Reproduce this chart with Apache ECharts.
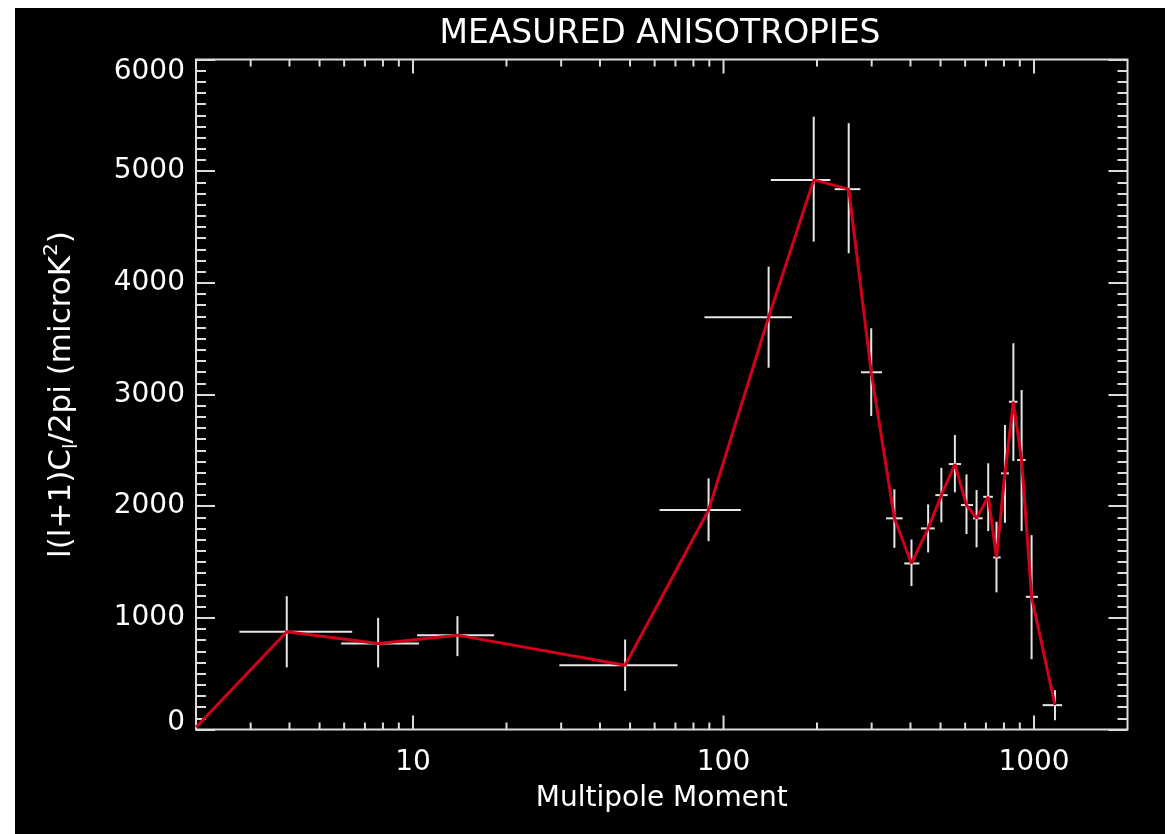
<!DOCTYPE html>
<html>
<head>
<meta charset="utf-8">
<script src="https://cdn.jsdelivr.net/npm/echarts@6/dist/echarts.min.js"></script>
<style>
html, body { margin: 0; padding: 0; background: #ffffff; width: 1176px; height: 834px; overflow: hidden; }
#chart { position: absolute; left: 15px; top: 8px; width: 1150px; height: 826px; background: #000000; }
</style>
</head>
<body>
<div id="chart"></div>
<script>
// ---- data ----
const titleText = 'MEASURED ANISOTROPIES';
const xTitle = 'Multipole Moment';
const ell   = [2, 3.92, 7.72, 13.9, 48.2, 89.5, 139.7, 195.2, 253, 299, 355, 403, 456, 503, 556, 606, 653, 712, 757, 806, 858, 912, 982, 1168];
const power = [20, 875, 771, 845, 576, 1965, 3692, 4922, 4839, 3199, 1891, 1487, 1801, 2099, 2377, 2010, 1891, 2084, 1541, 2294, 2935, 2413, 1188, 218];
const ellLow  = [null, 2.76, 5.87, 10.3, 29.6, 62.2, 86.8, 142, 228, 277, 333.8, 382, 432, 481, 531, 582, 636, 686, 739, 783, 830, 882, 940, 1066];
const ellHigh = [null, 6.37, 10.45, 18.25, 71.1, 113.7, 166, 220.8, 275.8, 324, 377.6, 427.6, 479, 527, 582, 636, 683, 737, 781, 830, 884, 940, 1030, 1232];
const powLow  = [null, 556, 556, 657, 346, 1687, 3240, 4369, 4265, 2807, 1627, 1284, 1586, 1855, 2124, 1750, 1631, 1777, 1228, 1851, 2404, 1777, 630, 83];
const powHigh = [null, 1194, 1000, 1015, 806, 2249, 4145, 5489, 5430, 3593, 2151, 1702, 2016, 2344, 2637, 2285, 2144, 2384, 1860, 2727, 3459, 3040, 1741, 352];
const xMajorTicks = [10, 100, 1000];
const xMinorTicks = [3, 4, 5, 6, 7, 8, 9, 20, 30, 40, 50, 60, 70, 80, 90, 200, 300, 400, 500, 600, 700, 800, 900];
const xLabels = [10, 100, 1000];
const yTickValues = [0, 1000, 2000, 3000, 4000, 5000, 6000];

const FG = '#dcdcdc';
const FONT = 'DejaVu Sans';

const chart = echarts.init(document.getElementById('chart'), null, { renderer: 'canvas' });

const lineData = ell.map((l, i) => [l, power[i]]);
const errData = ell.map((l, i) => [l, power[i], ellLow[i], ellHigh[i], powLow[i], powHigh[i]]).filter(d => d[2] !== null);
const tickData = xMajorTicks.map(v => [v, 0, 14]).concat(xMinorTicks.map(v => [v, 0, 7]));

const yAxisCommon = {
  type: 'value', min: 0, max: 6000, interval: 1000,
  axisLine: { show: false },
  splitLine: { show: false },
  axisTick: { show: true, inside: true, length: 19, lineStyle: { color: FG, width: 2 } },
  minorTick: { show: true, splitNumber: 10, length: 10, lineStyle: { color: FG, width: 2 } }
};

chart.setOption({
  animation: false,
  backgroundColor: '#000000',
  graphic: [{
    type: 'text', x: 645, y: 26,
    style: { text: titleText, fill: '#ffffff', font: '33px "DejaVu Sans"', textAlign: 'center', textVerticalAlign: 'middle' }
  }],
  grid: {
    left: 181, top: 51.5, right: 37.5, bottom: 104.5,
    show: true, borderColor: FG, borderWidth: 2, backgroundColor: 'transparent'
  },
  xAxis: {
    type: 'log', logBase: 10, min: 2, max: 2000,
    axisLine: { show: false },
    axisTick: { show: false },
    splitLine: { show: false },
    minorTick: { show: false },
    axisLabel: {
      color: '#ffffff', fontFamily: FONT, fontSize: 28, margin: 19,
      formatter: function (v) { const r = Math.round(v); return xLabels.indexOf(r) >= 0 ? String(r) : ''; }
    },
    name: xTitle, nameLocation: 'middle', nameGap: 55,
    nameTextStyle: { color: '#ffffff', fontFamily: FONT, fontSize: 28 }
  },
  yAxis: [
    Object.assign({}, yAxisCommon, {
      position: 'left',
      axisLabel: {
        color: '#ffffff', fontFamily: FONT, fontSize: 28, margin: 11,
        formatter: function (v) {
          if (v === yTickValues[0]) return '{lo|' + v + '}';
          if (v === yTickValues[yTickValues.length - 1]) return '{hi|' + v + '}';
          return String(v);
        },
        rich: {
          lo: { color: '#ffffff', fontFamily: FONT, fontSize: 28, padding: [0, 0, 14, 0] },
          hi: { color: '#ffffff', fontFamily: FONT, fontSize: 28, padding: [24, 0, 0, 0] }
        }
      },
      name: '{m|l(l+1)C}{s|l}{m|/2pi (microK}{p|2}{m|)}',
      nameLocation: 'middle', nameGap: 114,
      nameTextStyle: {
        color: '#ffffff', fontFamily: FONT, fontSize: 31,
        rich: {
          m: { color: '#ffffff', fontFamily: FONT, fontSize: 31, lineHeight: 40, verticalAlign: 'middle' },
          s: { color: '#ffffff', fontFamily: FONT, fontSize: 20, lineHeight: 40, verticalAlign: 'bottom' },
          p: { color: '#ffffff', fontFamily: FONT, fontSize: 20, lineHeight: 40, verticalAlign: 'top' }
        }
      }
    }),
    Object.assign({}, yAxisCommon, {
      position: 'right',
      axisLabel: { show: false }
    })
  ],
  series: [
    {
      type: 'custom',
      name: 'xticks',
      coordinateSystem: 'cartesian2d',
      xAxisIndex: 0, yAxisIndex: 0,
      encode: { x: 0, y: 1 },
      silent: true,
      renderItem: function (params, api) {
        const v = api.value(0);
        const len = api.value(2);
        const px = api.coord([v, 0])[0];
        const cs = params.coordSys;
        const yb = cs.y + cs.height, yt = cs.y;
        const style = { stroke: FG, lineWidth: 2 };
        return {
          type: 'group',
          children: [
            { type: 'line', shape: { x1: px, y1: yb, x2: px, y2: yb - len }, style: style },
            { type: 'line', shape: { x1: px, y1: yt, x2: px, y2: yt + len }, style: style }
          ]
        };
      },
      data: tickData,
      z: 3
    },
    {
      type: 'custom',
      name: 'errors',
      coordinateSystem: 'cartesian2d',
      xAxisIndex: 0, yAxisIndex: 0,
      encode: { x: 0, y: 1 },
      silent: true,
      renderItem: function (params, api) {
        const x = api.value(0), y = api.value(1);
        const a = api.coord([api.value(2), y]);
        const b = api.coord([api.value(3), y]);
        const c = api.coord([x, api.value(4)]);
        const d = api.coord([x, api.value(5)]);
        const style = { stroke: '#e6e6e6', lineWidth: 2 };
        return {
          type: 'group',
          children: [
            { type: 'line', shape: { x1: a[0], y1: a[1], x2: b[0], y2: b[1] }, style: style },
            { type: 'line', shape: { x1: c[0], y1: c[1], x2: d[0], y2: d[1] }, style: style }
          ]
        };
      },
      data: errData,
      z: 4
    },
    {
      type: 'line',
      name: 'power',
      data: lineData,
      showSymbol: false,
      symbol: 'none',
      lineStyle: { color: '#d2001a', width: 3 },
      z: 5
    }
  ]
});
</script>
</body>
</html>
